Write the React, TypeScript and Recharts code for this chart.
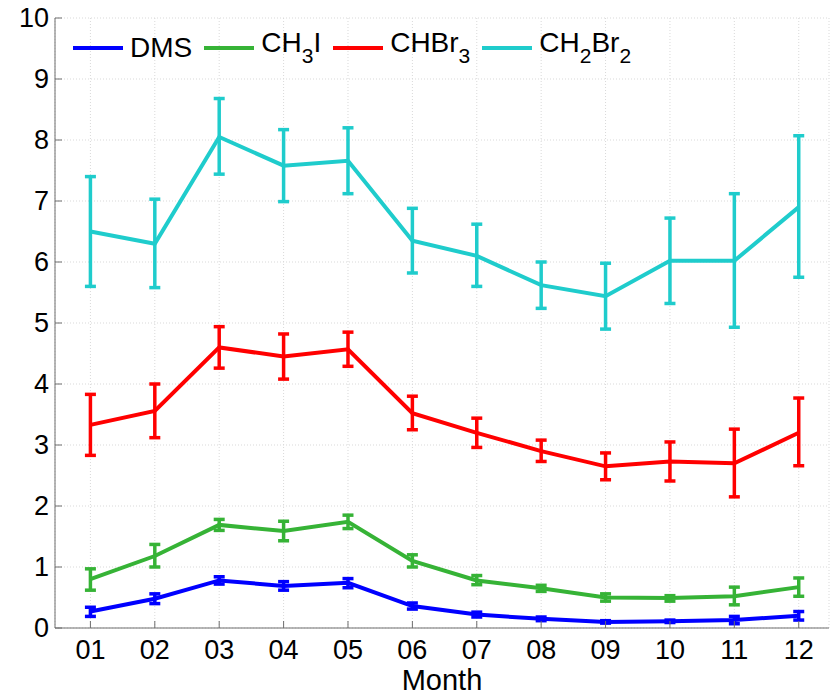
import React from 'react';
import { LineChart, Line, XAxis, YAxis, CartesianGrid, ErrorBar } from 'recharts';

const months = [1, 2, 3, 4, 5, 6, 7, 8, 9, 10, 11, 12];
const monthLabels = ['01', '02', '03', '04', '05', '06', '07', '08', '09', '10', '11', '12'];
const yTicks = [0, 1, 2, 3, 4, 5, 6, 7, 8, 9, 10];

const dms = [0.27, 0.48, 0.78, 0.69, 0.74, 0.36, 0.22, 0.15, 0.1, 0.11, 0.13, 0.2];
const dmsLow = [0.19, 0.4, 0.72, 0.62, 0.66, 0.31, 0.18, 0.12, 0.08, 0.09, 0.07, 0.13];
const dmsHigh = [0.34, 0.56, 0.84, 0.76, 0.81, 0.41, 0.26, 0.18, 0.12, 0.13, 0.19, 0.27];

const ch3i = [0.8, 1.18, 1.69, 1.59, 1.74, 1.1, 0.78, 0.65, 0.5, 0.49, 0.52, 0.67];
const ch3iLow = [0.62, 1.0, 1.6, 1.43, 1.63, 1.0, 0.71, 0.6, 0.44, 0.44, 0.38, 0.52];
const ch3iHigh = [0.97, 1.37, 1.78, 1.75, 1.85, 1.2, 0.86, 0.7, 0.56, 0.53, 0.67, 0.82];

const chbr3 = [3.33, 3.56, 4.6, 4.45, 4.57, 3.52, 3.2, 2.9, 2.65, 2.73, 2.7, 3.2];
const chbr3Low = [2.83, 3.12, 4.26, 4.08, 4.29, 3.25, 2.96, 2.73, 2.43, 2.41, 2.15, 2.66];
const chbr3High = [3.83, 4.0, 4.94, 4.82, 4.85, 3.8, 3.44, 3.08, 2.87, 3.05, 3.26, 3.77];

const ch2br2 = [6.5, 6.3, 8.05, 7.58, 7.66, 6.35, 6.1, 5.62, 5.44, 6.02, 6.02, 6.9];
const ch2br2Low = [5.6, 5.58, 7.44, 6.99, 7.12, 5.82, 5.6, 5.24, 4.9, 5.32, 4.93, 5.75];
const ch2br2High = [7.4, 7.03, 8.68, 8.17, 8.2, 6.88, 6.62, 6.0, 5.98, 6.72, 7.12, 8.07];

const FONT = '"Liberation Sans", Arial, sans-serif';
const AXIS = '#6e6e6e';

const series = [
  { key: 'dms', name: ['DMS'], color: '#0000ff', values: dms, low: dmsLow, high: dmsHigh },
  { key: 'ch3i', name: ['CH', '3', 'I'], color: '#36b336', values: ch3i, low: ch3iLow, high: ch3iHigh },
  { key: 'chbr3', name: ['CHBr', '3'], color: '#ff0000', values: chbr3, low: chbr3Low, high: chbr3High },
  { key: 'ch2br2', name: ['CH', '2', 'Br', '2'], color: '#1fcccc', values: ch2br2, low: ch2br2Low, high: ch2br2High },
];

const data = months.map((m, i) => {
  const row: any = { m };
  series.forEach(s => {
    row[s.key] = s.values[i];
    row[s.key + 'Err'] = [s.values[i] - s.low[i], s.high[i] - s.values[i]];
  });
  return row;
});

const LeftTick = (props: any) => {
  const { x, y, payload } = props;
  return (
    <g>
      <line x1={x} y1={y} x2={x + 7} y2={y} stroke={AXIS} />
      <text x={x - 6} y={y} textAnchor="end" dominantBaseline="central" fontFamily={FONT} fontSize={27} fill="#000">
        {payload.value}
      </text>
    </g>
  );
};

const RightTick = (props: any) => {
  const { x, y } = props;
  return <line x1={x - 7} y1={y} x2={x} y2={y} stroke={AXIS} />;
};

const BottomTick = (props: any) => {
  const { x, y, payload } = props;
  return (
    <g>
      <line x1={x} y1={y} x2={x} y2={y - 7} stroke={AXIS} />
      <text x={x} y={y + 31} textAnchor="middle" fontFamily={FONT} fontSize={27} fill="#000">
        {monthLabels[payload.value - 1]}
      </text>
    </g>
  );
};

const TopTick = (props: any) => {
  const { x, y } = props;
  return <line x1={x} y1={y} x2={x} y2={y + 7} stroke={AXIS} />;
};

const LegendBox = () => (
  <div
    style={{
      position: 'absolute',
      left: 73,
      top: 30,
      display: 'flex',
      alignItems: 'center',
      fontFamily: FONT,
      fontSize: 28,
      color: '#000',
      lineHeight: '34px',
    }}
  >
    {series.map(s => (
      <div key={s.key} style={{ display: 'flex', alignItems: 'center', marginRight: 12 }}>
        <span style={{ display: 'inline-block', width: 50, height: 4, background: s.color, marginRight: 7 }} />
        <span style={{ position: 'relative', top: s.name.length > 1 ? -4 : 0, whiteSpace: 'nowrap' }}>
          {s.name.map((part, i) =>
            i % 2 === 1 ? (
              <span key={i} style={{ fontSize: 21, position: 'relative', top: 11 }}>{part}</span>
            ) : (
              <span key={i}>{part}</span>
            )
          )}
        </span>
      </div>
    ))}
  </div>
);

export default function App() {
  return (
    <div style={{ position: 'absolute', left: 0, top: 0, width: 837, height: 696, background: '#fff' }}>
      <LineChart width={837} height={696} data={data} margin={{ top: 18, right: 8, left: 0, bottom: 0 }}>
        <CartesianGrid stroke="#d9d9d9" strokeDasharray="1 2" />
        <XAxis
          dataKey="m"
          type="number"
          domain={[0.45, 12.47]}
          ticks={months}
          interval={0}
          height={68}
          tickSize={0}
          tickMargin={0}
          stroke={AXIS}
          tick={<BottomTick />}
          allowDataOverflow
        />
        <XAxis
          xAxisId="t"
          orientation="top"
          dataKey="m"
          type="number"
          domain={[0.45, 12.47]}
          ticks={months}
          interval={0}
          height={0}
          tickSize={0}
          tickMargin={0}
          stroke={AXIS}
          tick={<TopTick />}
          allowDataOverflow
        />
        <YAxis
          type="number"
          domain={[0, 10]}
          ticks={yTicks}
          interval={0}
          width={55}
          tickSize={0}
          tickMargin={0}
          stroke={AXIS}
          tick={<LeftTick />}
          allowDataOverflow
        />
        <YAxis
          yAxisId="r"
          orientation="right"
          type="number"
          domain={[0, 10]}
          ticks={yTicks}
          interval={0}
          width={0}
          tickSize={0}
          tickMargin={0}
          stroke={AXIS}
          tick={<RightTick />}
          allowDataOverflow
        />
        {series.map(s => (
          <Line
            key={s.key}
            dataKey={s.key}
            stroke={s.color}
            strokeWidth={4}
            dot={false}
            activeDot={false}
            type="linear"
            isAnimationActive={false}
          >
            <ErrorBar dataKey={s.key + 'Err'} width={5.5} strokeWidth={3.5} stroke={s.color} direction="y" />
          </Line>
        ))}
      </LineChart>
      <div
        style={{
          position: 'absolute',
          left: 0,
          top: 665,
          width: 884,
          textAlign: 'center',
          fontFamily: FONT,
          fontSize: 29,
          lineHeight: '30px',
          color: '#000',
        }}
      >
        Month
      </div>
      <LegendBox />
    </div>
  );
}
